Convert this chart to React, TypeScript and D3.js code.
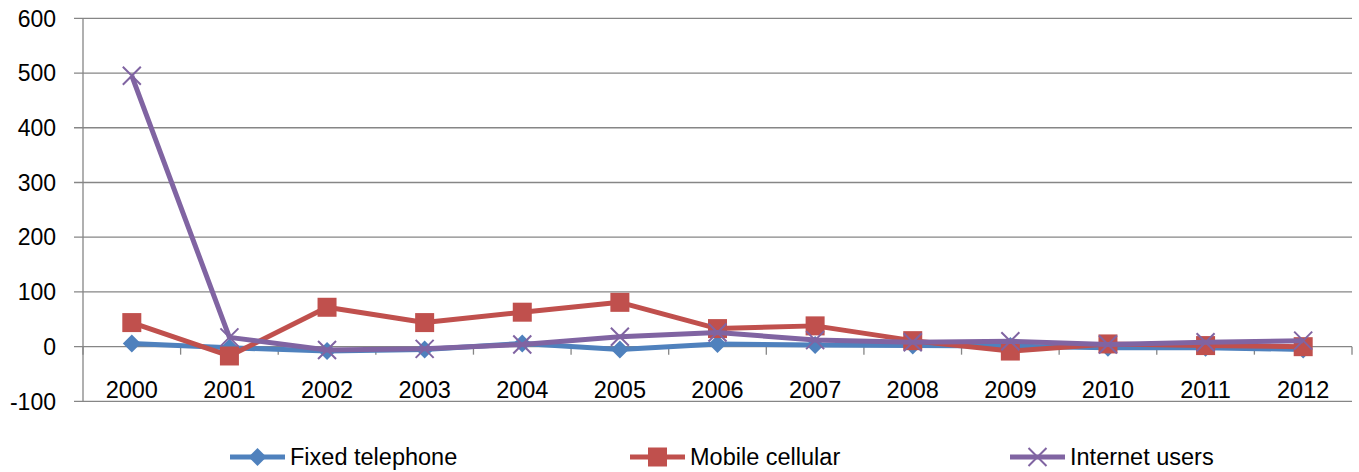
import React from "react";
import * as d3 from "d3";

const years = ["2000","2001","2002","2003","2004","2005","2006","2007","2008","2009","2010","2011","2012"];
const fixedTelephone = [6, -2, -8, -5, 6, -5, 5, 3, 2, 1, -2, -2, -5];
const mobileCellular = [44, -17, 72, 44, 63, 81, 33, 38, 11, -8, 5, 2, 0];
const internetUsers = [495, 17, -6, -4, 4, 18, 26, 12, 8, 10, 4, 8, 11];
const yTicks = [-100, 0, 100, 200, 300, 400, 500, 600];

const W = 1359, H = 472;
const left = 83, right = 1352, top = 18.3, bottom = 401.4;
const font = "'Liberation Sans', Arial, sans-serif";

export default function App() {
  const x = d3.scaleBand<string>().domain(years).range([left, right]);
  const y = d3.scaleLinear().domain([-100, 600]).range([bottom, top]);
  const cx = (i: number) => (x(years[i]) as number) + x.bandwidth() / 2;
  const line = d3.line<number>().x((_, i) => cx(i)).y((d) => y(d));

  const series = [
    { name: "Fixed telephone", data: fixedTelephone, color: "#4F81BD", marker: "diamond" },
    { name: "Mobile cellular", data: mobileCellular, color: "#C0504D", marker: "square" },
    { name: "Internet users", data: internetUsers, color: "#8064A2", marker: "x" },
  ];

  const marker = (type: string, px: number, py: number, color: string, key: string) => {
    if (type === "diamond") {
      const s = 9;
      return <path key={key} d={`M${px},${py - s}L${px + s},${py}L${px},${py + s}L${px - s},${py}Z`} fill={color} />;
    }
    if (type === "square") {
      const s = 9.5;
      return <rect key={key} x={px - s} y={py - s} width={2 * s} height={2 * s} fill={color} />;
    }
    const s = 9;
    return (
      <path key={key} d={`M${px - s},${py - s}L${px + s},${py + s}M${px - s},${py + s}L${px + s},${py - s}`} stroke={color} strokeWidth={2} fill="none" />
    );
  };

  const legendX = [230, 630, 1010];
  const legendY = 457;

  return (
    <svg width={W} height={H} style={{ position: "absolute", left: 0, top: 0 }}>
      <rect width={W} height={H} fill="#fff" />
      {yTicks.map((t) => (
        <g key={t}>
          <line x1={left - 9} x2={right} y1={y(t)} y2={y(t)} stroke="#868686" strokeWidth={1.3} />
          <text x={56} y={y(t)} dy="0.36em" textAnchor="end" fontFamily={font} fontSize={23} fill="#000">{t}</text>
        </g>
      ))}
      <line x1={left} x2={left} y1={top} y2={bottom} stroke="#868686" strokeWidth={1.3} />
      {d3.range(years.length + 1).map((i) => {
        const xx = left + i * x.bandwidth();
        return <line key={i} x1={xx} x2={xx} y1={y(0)} y2={y(0) + 8} stroke="#868686" strokeWidth={1.3} />;
      })}
      {years.map((yr, i) => (
        <text key={yr} x={cx(i)} y={398} textAnchor="middle" fontFamily={font} fontSize={23.5} fill="#000">{yr}</text>
      ))}
      {series.map((s) => (
        <g key={s.name}>
          <path d={line(s.data) as string} fill="none" stroke={s.color} strokeWidth={5} strokeLinejoin="round" />
          {s.data.map((v, i) => marker(s.marker, cx(i), y(v), s.color, s.name + i))}
        </g>
      ))}
      {series.map((s, k) => (
        <g key={"lg" + s.name}>
          <line x1={legendX[k]} x2={legendX[k] + 55} y1={legendY} y2={legendY} stroke={s.color} strokeWidth={5} />
          {marker(s.marker, legendX[k] + 27.5, legendY, s.color, "lm" + k)}
          <text x={legendX[k] + 60} y={legendY} dy="0.36em" fontFamily={font} fontSize={23.5} fill="#000">{s.name}</text>
        </g>
      ))}
    </svg>
  );
}
